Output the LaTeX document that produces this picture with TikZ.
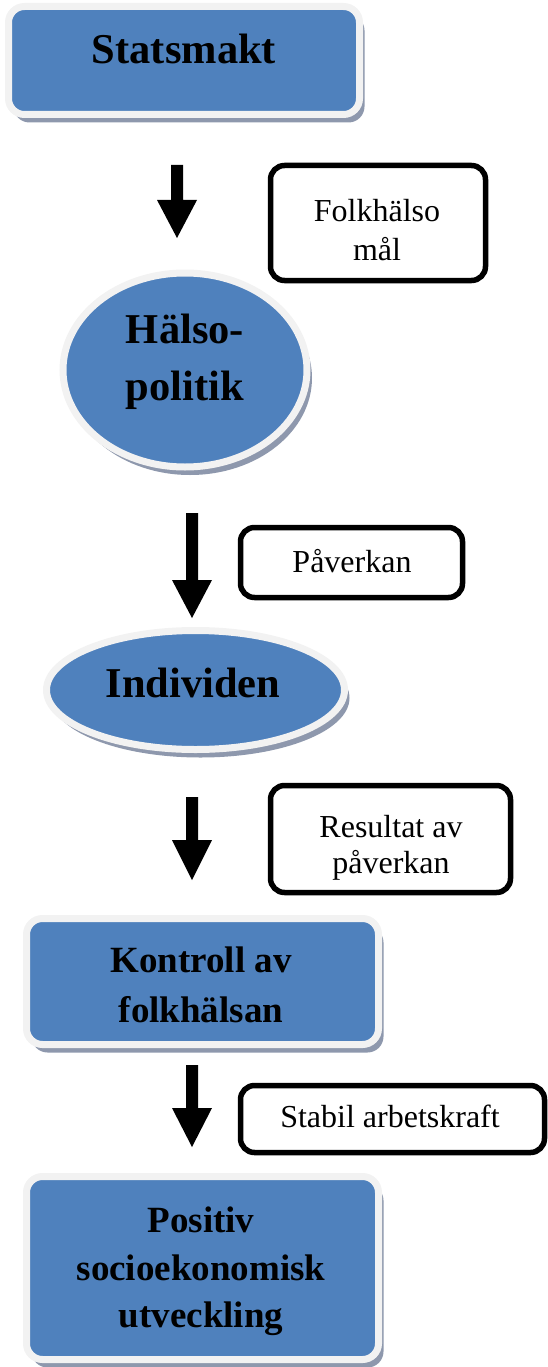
\documentclass[tikz,border=0pt]{standalone}
\usepackage{fontspec}
\setmainfont{Liberation Serif}
\usetikzlibrary{shapes.geometric,shadows}
\definecolor{boxblue}{HTML}{4F81BD}
\definecolor{rimgray}{HTML}{F2F2F2}
\definecolor{shadowgray}{HTML}{8E98AD}

% thick block arrow pointing down: x, shaft top, head start, tip
\newcommand\downblock[4]{%
  \fill[black] ({#1-6},#2) -- ({#1+6},#2) -- ({#1+6},#3) -- ({#1+20},#3)
    -- (#1,#4) -- ({#1-20},#3) -- ({#1-6},#3) -- cycle;}

\begin{document}
\begin{tikzpicture}[x=1pt,y=-1pt,
  shapebase/.style={fill=boxblue, draw=rimgray, line width=7pt, inner sep=0pt,
    drop shadow={shadow xshift=5pt, shadow yshift=-8pt, fill=shadowgray, opacity=1}},
  bluebox/.style={shapebase, rectangle, rounded corners=16pt},
  blueoval/.style={shapebase, ellipse},
  notebox/.style={draw=black, fill=white, line width=5.5pt, rounded corners=14pt, inner sep=0pt},
  bigtxt/.style={font=\bfseries\fontsize{42.5}{50}\selectfont, anchor=base, inner sep=0pt},
  midtxt/.style={font=\bfseries\fontsize{37}{44}\selectfont, anchor=base, inner sep=0pt},
  smalltxt/.style={font=\fontsize{32}{38}\selectfont, anchor=base, inner sep=0pt}
]
\useasboundingbox (0,0) rectangle (547,1367);

% main chain of shapes
\node[bluebox, minimum width=351pt, minimum height=108pt] (statsmakt) at (184,60.5) {};
\node[bigtxt] (statsmakt-t) at (184,64) {Statsmakt};

\node[blueoval, minimum width=244pt, minimum height=194pt] (halso) at (185,370) {};
\node[bigtxt] (halso-t1) at (185,343) {Hälso-};
\node[bigtxt] (halso-t2) at (185,400) {politik};

\node[blueoval, minimum width=298pt, minimum height=119pt] (individen) at (195.5,690) {};
\node[bigtxt] (individen-t) at (193,697) {Individen};

\node[bluebox, minimum width=352pt, minimum height=126pt] (kontroll) at (202.5,981.5) {};
\node[midtxt] (kontroll-t1) at (201,972) {Kontroll av};
\node[midtxt] (kontroll-t2) at (201,1022) {folkhälsan};

\node[bluebox, minimum width=352pt, minimum height=183pt] (positiv) at (202.5,1268) {};
\node[midtxt] (positiv-t1) at (201,1232) {Positiv};
\node[midtxt] (positiv-t2) at (201,1280) {socioekonomisk};
\node[midtxt] (positiv-t3) at (201,1327) {utveckling};

% side notes
\node[notebox, minimum width=215pt, minimum height=115pt] (mal) at (378,223) {};
\node[smalltxt] (mal-t1) at (377,222) {Folkhälso};
\node[smalltxt] (mal-t2) at (377,260) {mål};

\node[notebox, minimum width=222pt, minimum height=70pt] (paverkan) at (351.5,562.5) {};
\node[smalltxt] (paverkan-t) at (352,572) {Påverkan};

\node[notebox, minimum width=240pt, minimum height=107pt] (resultat) at (390.5,839) {};
\node[smalltxt] (resultat-t1) at (391,837) {Resultat av};
\node[smalltxt] (resultat-t2) at (391,873) {påverkan};

\node[notebox, minimum width=304pt, minimum height=67pt] (stabil) at (392.5,1119) {};
\node[smalltxt] (stabil-t) at (390,1127) {Stabil arbetskraft};

% flow arrows
\downblock{177}{165}{200}{238}
\downblock{192}{513}{580}{618}
\downblock{192}{797}{840}{880}
\downblock{192}{1065}{1108}{1147}
\end{tikzpicture}
\end{document}
